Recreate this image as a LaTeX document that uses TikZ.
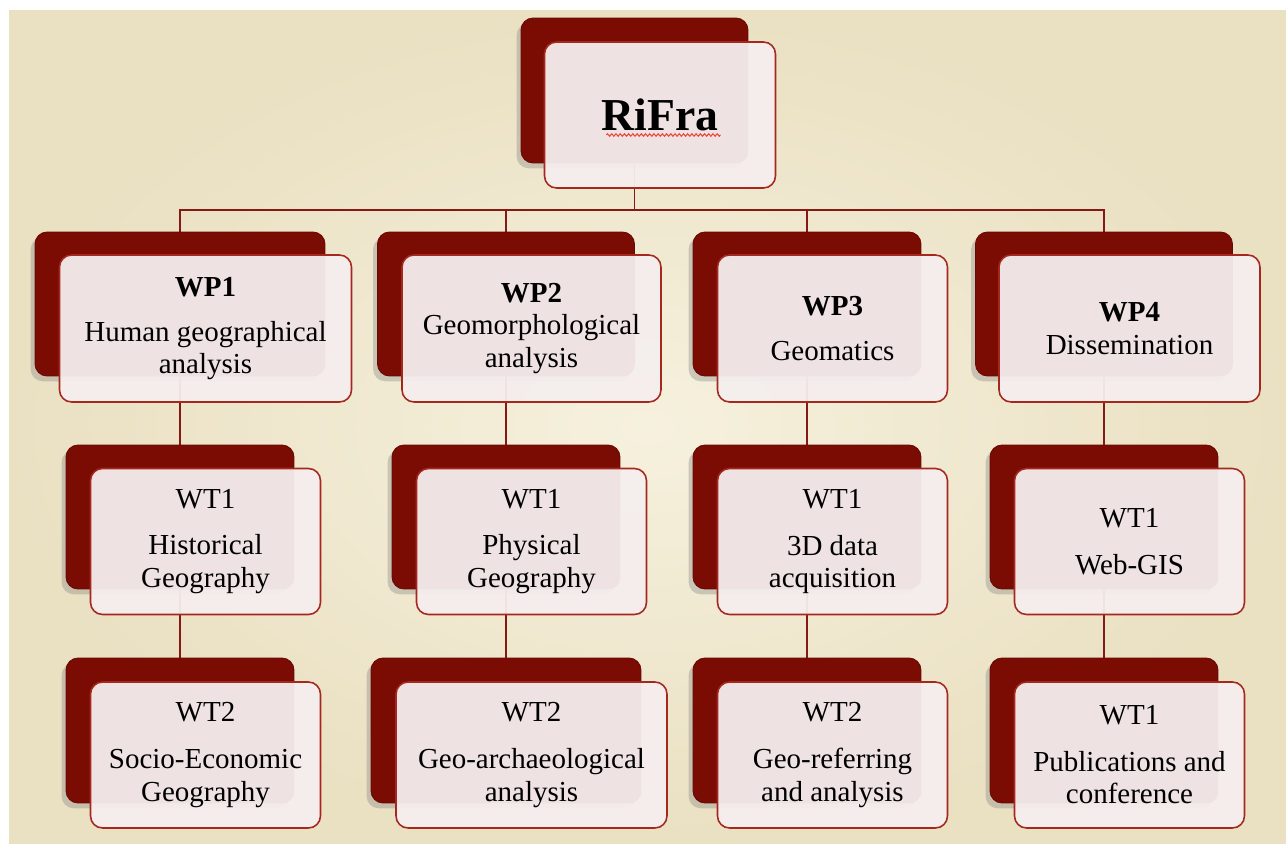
\documentclass[tikz,border=0pt]{standalone}
\usepackage{fontspec}
\setmainfont{Liberation Serif}
\usetikzlibrary{positioning, backgrounds, shadows, decorations.pathmorphing}
\definecolor{paperlight}{RGB}{246,241,222}
\definecolor{paperdark}{RGB}{234,224,194}
\definecolor{cardred}{RGB}{122,12,4}
\definecolor{rimred}{RGB}{165,40,30}
\definecolor{paleface}{RGB}{245,238,238}
\definecolor{linered}{RGB}{135,25,20}
\definecolor{squigred}{RGB}{235,70,55}
\tikzset{
  dims/.style 2 args={minimum width=#1, minimum height=#2},
  backbox/.style={rectangle, draw=cardred!85!black, fill=cardred,
    rounded corners=0.24cm, line width=0.5pt,
    drop shadow={shadow xshift=-2.5pt, shadow yshift=-3pt, opacity=0.35}},
  frontbox/.style={rectangle, draw=rimred, fill=paleface, fill opacity=0.95,
    text opacity=1, rounded corners=0.24cm, line width=0.9pt, align=center,
    font=\fontsize{16.5}{18.5}\selectfont, inner sep=2pt,
    xshift=0.51cm, yshift=-0.49cm},
  conn/.style={line width=1.1pt, color=linered},
  squiggle/.style={draw=squigred, line width=0.6pt, decorate,
    decoration={zigzag, amplitude=0.7pt, segment length=2.4pt}}
}

\begin{document}
\begin{tikzpicture}[x=0.02cm, y=-0.02cm]
\useasboundingbox (0,0) rectangle (1286,843);

% top
\node[backbox, dims={4.54cm}{2.9cm}] (rifrab) at (634.5,90.5) {};
\node[frontbox, dims={4.62cm}{2.92cm}, font=\fontsize{26}{30}\selectfont\bfseries] (rifra) at (rifrab) {RiFra};
\draw[squiggle] ([xshift=-1.07cm, yshift=-0.4cm]rifra.center) -- ([xshift=1.21cm, yshift=-0.4cm]rifra.center);

% work packages
\node[backbox, dims={5.8cm}{2.88cm}] (wp1b) at (180,304) {};
\node[frontbox, dims={5.84cm}{2.94cm}] (wp1) at (wp1b) {\textbf{WP1}\\[7pt] Human geographical\\ analysis};
\node[backbox, dims={5.14cm}{2.88cm}] (wp2b) at (506,304) {};
\node[frontbox, dims={5.18cm}{2.94cm}] (wp2) at (wp2b) {\textbf{WP2}\\ Geomorphological\\ analysis};
\node[backbox, dims={4.56cm}{2.88cm}] (wp3b) at (807,304) {};
\node[frontbox, dims={4.6cm}{2.94cm}] (wp3) at (wp3b) {\textbf{WP3}\\[7pt] Geomatics};
\node[backbox, dims={5.14cm}{2.88cm}] (wp4b) at (1104,304) {};
\node[frontbox, dims={5.22cm}{2.94cm}] (wp4) at (wp4b) {\textbf{WP4}\\ Dissemination};

% first tasks
\node[backbox, dims={4.56cm}{2.88cm}] (wt11b) at (180,517) {};
\node[frontbox, dims={4.6cm}{2.92cm}] (wt11) at (wt11b) {WT1\\[8pt] Historical\\ Geography};
\node[backbox, dims={4.56cm}{2.88cm}] (wt21b) at (506,517) {};
\node[frontbox, dims={4.6cm}{2.92cm}] (wt21) at (wt21b) {WT1\\[8pt] Physical\\ Geography};
\node[backbox, dims={4.56cm}{2.88cm}] (wt31b) at (807,517) {};
\node[frontbox, dims={4.6cm}{2.92cm}] (wt31) at (wt31b) {WT1\\[8pt] 3D data\\ acquisition};
\node[backbox, dims={4.56cm}{2.88cm}] (wt41b) at (1104,517) {};
\node[frontbox, dims={4.6cm}{2.92cm}] (wt41) at (wt41b) {WT1\\[8pt] Web-GIS};

% second tasks
\node[backbox, dims={4.56cm}{2.9cm}] (wt12b) at (180,730.5) {};
\node[frontbox, dims={4.6cm}{2.92cm}] (wt12) at (wt12b) {WT2\\[8pt] Socio-Economic\\ Geography};
\node[backbox, dims={5.4cm}{2.9cm}] (wt22b) at (506,730.5) {};
\node[frontbox, dims={5.42cm}{2.92cm}] (wt22) at (wt22b) {WT2\\[8pt] Geo-archaeological\\ analysis};
\node[backbox, dims={4.56cm}{2.9cm}] (wt32b) at (807,730.5) {};
\node[frontbox, dims={4.6cm}{2.92cm}] (wt32) at (wt32b) {WT2\\[8pt] Geo-referring\\ and analysis};
\node[backbox, dims={4.56cm}{2.9cm}] (wt42b) at (1104,730.5) {};
\node[frontbox, dims={4.6cm}{2.92cm}] (wt42) at (wt42b) {WT1\\[8pt] Publications and\\ conference};

\begin{scope}[on background layer]
  \shade[inner color=paperlight, outer color=paperdark] (9,10) rectangle (1286,843);
  \coordinate (bus) at (634.5,210);
  \draw[conn] (rifrab.center) -- (bus);
  \draw[conn] (wp1b.center) |- (bus) -| (wp4b.center);
  \draw[conn] (wp2b.center) -- (wp2b.center |- bus);
  \draw[conn] (wp3b.center) -- (wp3b.center |- bus);
  \draw[conn] (wp1b.center) -- (wt11b.center) -- (wt12b.center);
  \draw[conn] (wp2b.center) -- (wt21b.center) -- (wt22b.center);
  \draw[conn] (wp3b.center) -- (wt31b.center) -- (wt32b.center);
  \draw[conn] (wp4b.center) -- (wt41b.center) -- (wt42b.center);
\end{scope}
\end{tikzpicture}
\end{document}
